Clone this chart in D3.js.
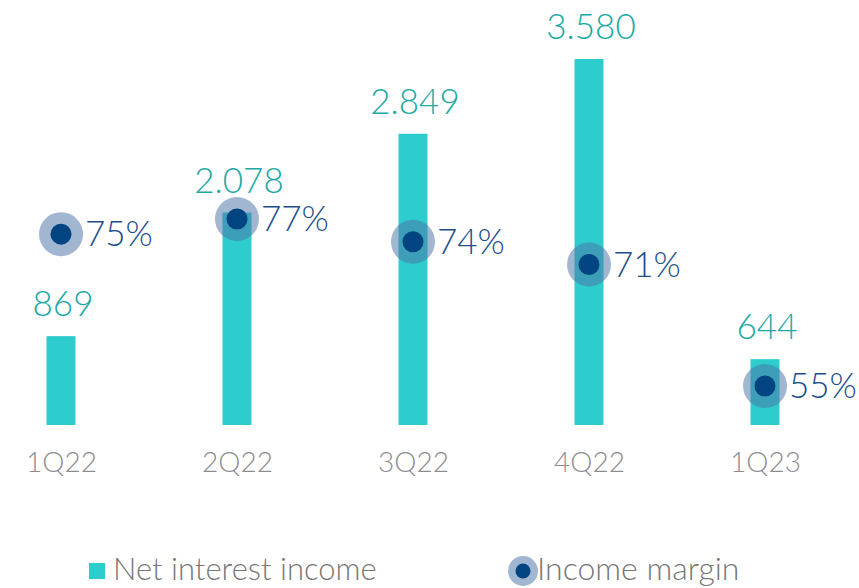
<!DOCTYPE html>
<html>
<head>
<meta charset="utf-8">
<script src="https://cdn.jsdelivr.net/npm/d3@7"></script>
<style>
  html, body { margin: 0; padding: 0; background: #ffffff; }
  #chart { width: 859px; height: 588px; }
  text { font-family: Lato, "Open Sans", sans-serif; font-weight: 300; }
</style>
</head>
<body>
<div id="chart"></div>
<script>
// Net interest income (bars) and income margin (dots) by quarter

var quarters = ["1Q22", "2Q22", "3Q22", "4Q22", "1Q23"];
var netInterestIncome = [869, 2078, 2849, 3580, 644];
var incomeMargin = [75, 77, 74, 71, 55];
var legendLabels = ["Net interest income", "Income margin"];

(function() {

    var width = 859;
    var height = 588;

    var barColor = "#2dcccd";
    var valueColor = "#1aa9a5";
    var marginColor = "#1a4d8a";
    var dotOuter = "#4a73a4";
    var dotInner = "#004481";
    var axisColor = "#8e8e8e";
    var legendColor = "#777777";

    var svg = d3.select("#chart")
        .append("svg")
        .attr("width", width)
        .attr("height", height);

    var x = d3.scalePoint()
        .domain(quarters)
        .range([61, 765]);

    var y = d3.scaleLinear()
        .domain([0, 3580])
        .range([425, 59]);

    var yMargin = d3.scaleLinear()
        .domain([55, 77])
        .range([386, 219]);

    var locale = d3.formatLocale({
        decimal: ",",
        thousands: ".",
        grouping: [3],
        currency: ["", "€"]
    });
    var fmt = locale.format(",d");

    var barWidth = 29;

    var rows = quarters.map(function(q, i) {
        return { q: q, nii: netInterestIncome[i], margin: incomeMargin[i] };
    });

    // Bars
    svg.selectAll(".bar")
        .data(rows)
        .enter()
        .append("rect")
        .attr("class", "bar")
        .attr("x", function(d) { return x(d.q) - barWidth / 2; })
        .attr("y", function(d) { return y(d.nii); })
        .attr("width", barWidth)
        .attr("height", function(d) { return y(0) - y(d.nii); })
        .attr("fill", barColor);

    // Bar value labels
    svg.selectAll(".value")
        .data(rows)
        .enter()
        .append("text")
        .attr("class", "value")
        .attr("x", function(d) { return x(d.q) + 2; })
        .attr("y", function(d) { return y(d.nii) - 20; })
        .attr("text-anchor", "middle")
        .attr("fill", valueColor)
        .attr("font-size", "35px")
        .text(function(d) { return fmt(d.nii); });

    // Margin dots
    var dot = svg.selectAll(".dot")
        .data(rows)
        .enter()
        .append("g")
        .attr("class", "dot")
        .attr("transform", function(d) {
            return "translate(" + x(d.q) + "," + yMargin(d.margin) + ")";
        });

    dot.append("circle")
        .attr("r", 22)
        .attr("fill", dotOuter)
        .attr("opacity", 0.52);

    dot.append("circle")
        .attr("r", 10.5)
        .attr("fill", dotInner);

    dot.append("text")
        .attr("x", 24)
        .attr("y", 12)
        .attr("fill", marginColor)
        .attr("font-size", "35px")
        .text(function(d) { return d.margin + "%"; });

    // X axis labels
    var xAxis = d3.axisBottom(x).tickSize(0).tickPadding(0);
    var axisG = svg.append("g")
        .attr("transform", "translate(0,448)")
        .call(xAxis);
    axisG.select(".domain").remove();
    axisG.selectAll("text")
        .attr("dy", "0")
        .attr("y", 24)
        .attr("fill", axisColor)
        .attr("font-size", "28px")
        .attr("font-family", "Lato, sans-serif")
        .attr("font-weight", 300);

    // Legend
    svg.append("rect")
        .attr("x", 89)
        .attr("y", 563)
        .attr("width", 16)
        .attr("height", 16)
        .attr("fill", barColor);

    svg.append("text")
        .attr("x", 113)
        .attr("y", 580)
        .attr("fill", legendColor)
        .attr("font-size", "31px")
        .text(legendLabels[0]);

    svg.append("circle")
        .attr("cx", 523)
        .attr("cy", 571)
        .attr("r", 15)
        .attr("fill", dotOuter)
        .attr("opacity", 0.52);

    svg.append("circle")
        .attr("cx", 523)
        .attr("cy", 571)
        .attr("r", 7.5)
        .attr("fill", dotInner);

    svg.append("text")
        .attr("x", 537)
        .attr("y", 580)
        .attr("fill", legendColor)
        .attr("font-size", "32px")
        .text(legendLabels[1]);

})();
</script>
</body>
</html>
